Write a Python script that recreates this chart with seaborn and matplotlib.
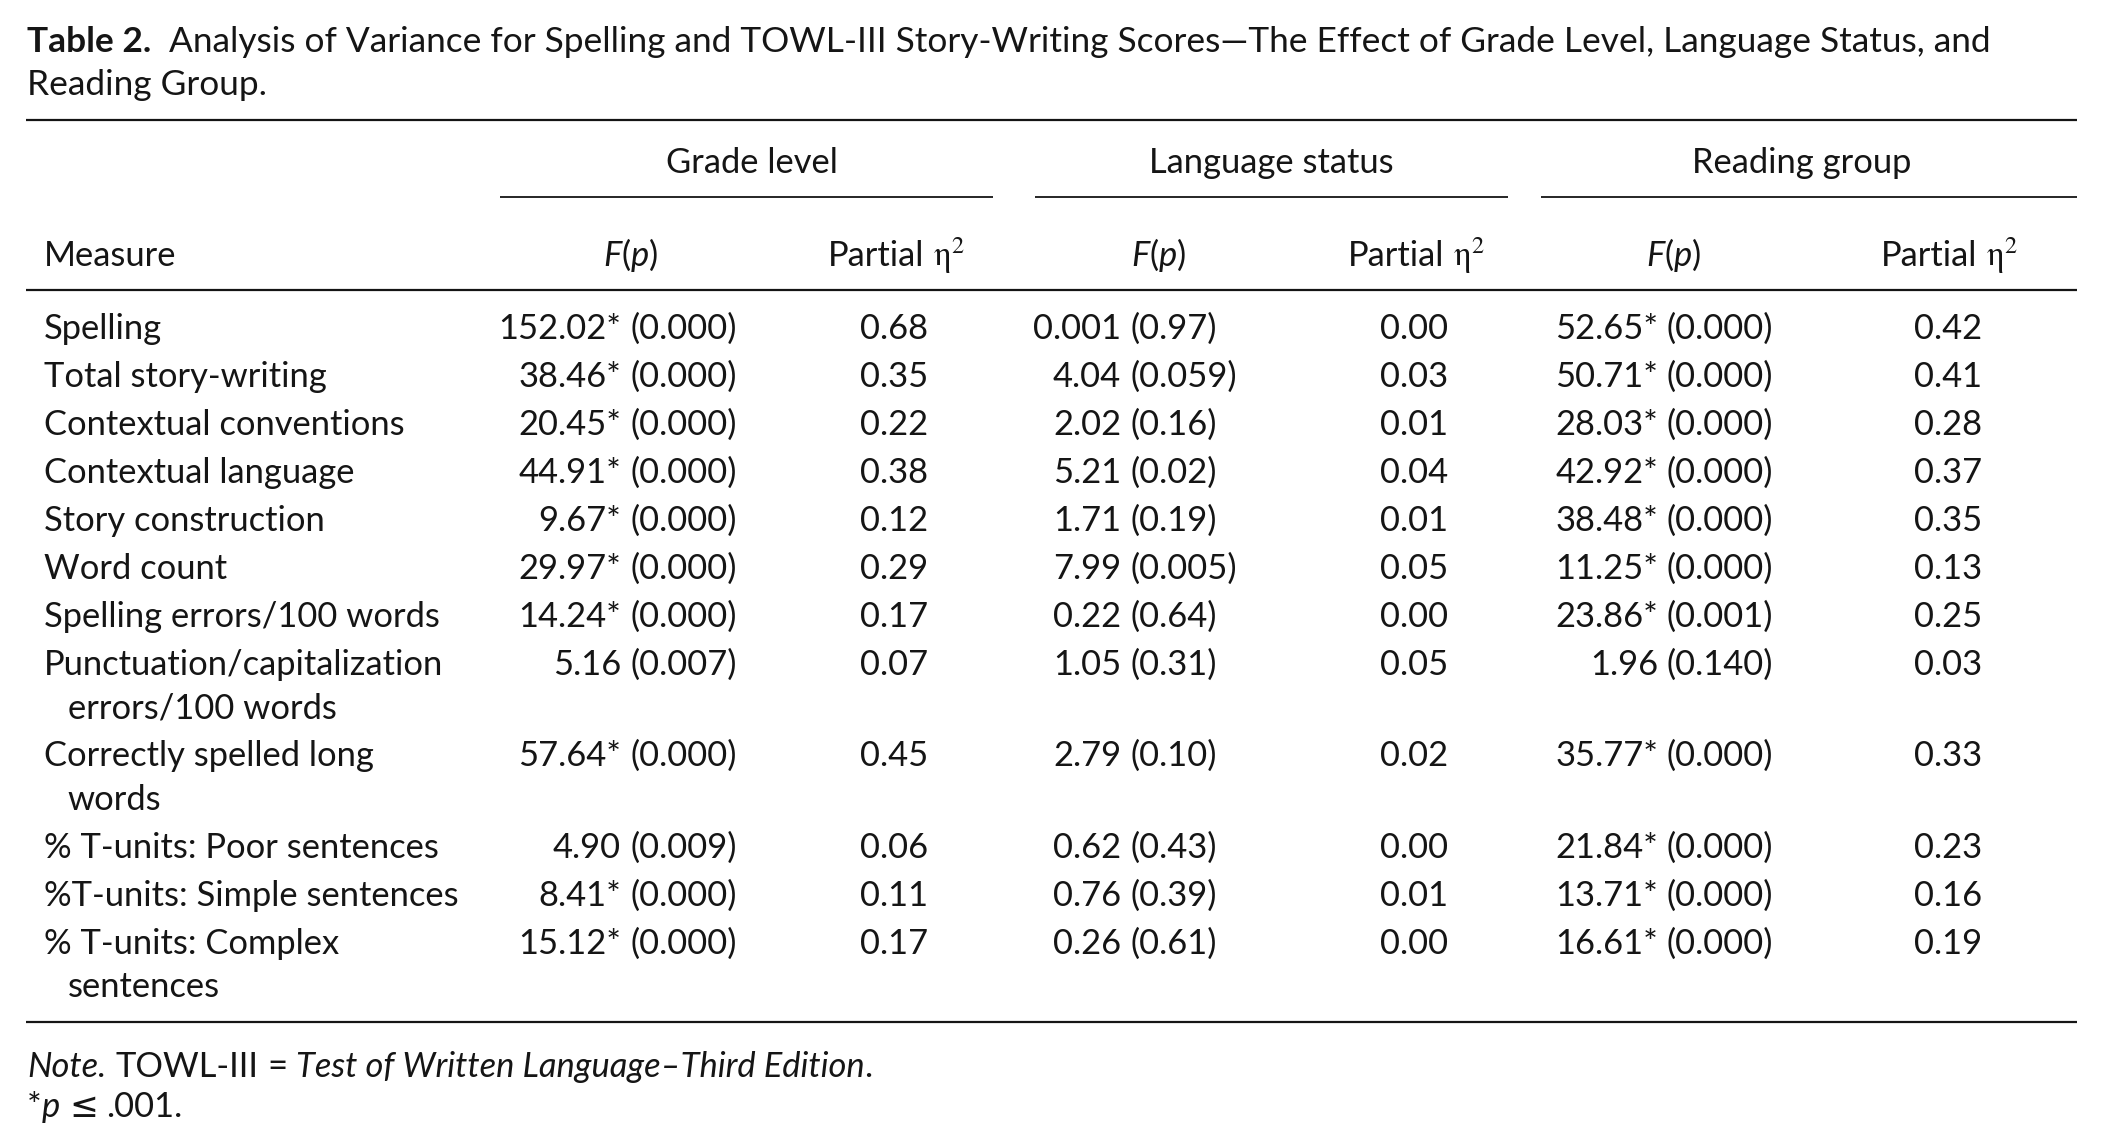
import matplotlib
matplotlib.use("Agg")
import matplotlib.pyplot as plt
import numpy as np
import pandas as pd
import seaborn as sns

# ---------------- data ----------------
title_bold = "Table 2."
title_line1 = "Analysis of Variance for Spelling and TOWL-III Story-Writing Scores\u2014The Effect of Grade Level, Language Status, and"
title_line2 = "Reading Group."

groups = ["Grade level", "Language status", "Reading group"]

measures = [
    "Spelling",
    "Total story-writing",
    "Contextual conventions",
    "Contextual language",
    "Story construction",
    "Word count",
    "Spelling errors/100 words",
    "Punctuation/capitalization\nerrors/100 words",
    "Correctly spelled long\nwords",
    "% T-units: Poor sentences",
    "%T-units: Simple sentences",
    "% T-units: Complex\nsentences",
]
grade_F = ["152.02* (0.000)", "38.46* (0.000)", "20.45* (0.000)", "44.91* (0.000)",
           "9.67* (0.000)", "29.97* (0.000)", "14.24* (0.000)", "5.16 (0.007)",
           "57.64* (0.000)", "4.90 (0.009)", "8.41* (0.000)", "15.12* (0.000)"]
grade_eta = [0.68, 0.35, 0.22, 0.38, 0.12, 0.29, 0.17, 0.07, 0.45, 0.06, 0.11, 0.17]
lang_F = ["0.001 (0.97)", "4.04 (0.059)", "2.02 (0.16)", "5.21 (0.02)",
          "1.71 (0.19)", "7.99 (0.005)", "0.22 (0.64)", "1.05 (0.31)",
          "2.79 (0.10)", "0.62 (0.43)", "0.76 (0.39)", "0.26 (0.61)"]
lang_eta = [0.00, 0.03, 0.01, 0.04, 0.01, 0.05, 0.00, 0.05, 0.02, 0.00, 0.01, 0.00]
read_F = ["52.65* (0.000)", "50.71* (0.000)", "28.03* (0.000)", "42.92* (0.000)",
          "38.48* (0.000)", "11.25* (0.000)", "23.86* (0.001)", "1.96 (0.140)",
          "35.77* (0.000)", "21.84* (0.000)", "13.71* (0.000)", "16.61* (0.000)"]
read_eta = [0.42, 0.41, 0.28, 0.37, 0.35, 0.13, 0.25, 0.03, 0.33, 0.23, 0.16, 0.19]

table = pd.DataFrame({
    "Measure": measures,
    "grade_F": grade_F, "grade_eta": grade_eta,
    "lang_F": lang_F, "lang_eta": lang_eta,
    "read_F": read_F, "read_eta": read_eta,
})

# ---------------- style ----------------
sns.set_theme(style="white")
plt.rcParams["font.family"] = ["Lato", "DejaVu Sans"]
plt.rcParams["mathtext.fontset"] = "stix"
INK = "#151515"

W, H = 2101, 1148
fig = plt.figure(figsize=(W / 100, H / 100), dpi=100)
fig.patch.set_facecolor("white")
ax = fig.add_axes([0, 0, 1, 1])
ax.set_xlim(0, W)
ax.set_ylim(H, 0)
ax.axis("off")
R = fig.canvas.get_renderer()


def tw(t):
    return t.get_window_extent(R).width


def measure(s, **kw):
    t = ax.text(0, 0, s, **kw)
    w = tw(t)
    t.remove()
    return w


# fit body font size to the reference width of a sample string
FS = 20 * 362 / measure("Contextual conventions", fontsize=20)
SPACE = measure("a a", fontsize=FS) - measure("aa", fontsize=FS)


def runs(x, y, parts, ha="left", size=None):
    size = size or FS
    sp = measure("a a", fontsize=size) - measure("aa", fontsize=size)
    objs, widths = [], []
    for txt, st in parts:
        if txt == " ":
            objs.append(None)
            widths.append(sp)
            continue
        t = ax.text(0, y, txt, fontsize=size, va="baseline", ha="left", color=INK, **st)
        objs.append(t)
        widths.append(tw(t))
    total = sum(widths)
    x0 = x if ha == "left" else (x - total / 2 if ha == "center" else x - total)
    for t, w in zip(objs, widths):
        if t is not None:
            t.set_x(x0)
        x0 += w
    return total


N = {}
I = {"fontstyle": "italic"}
B = {"fontweight": "bold"}
SYM = {"family": ["DejaVu Sans"]}

# ---------------- title ----------------
TX = 27
t1_parts = [(title_bold, B), (" ", N), (" ", N), (title_line1, N)]
w_title = sum(measure(p, fontsize=FS, **s) if p != " " else SPACE for p, s in t1_parts)
TFS = FS * 1959 / w_title
runs(TX, 52, t1_parts, size=TFS)
ax.text(TX, 95, title_line2, fontsize=TFS, va="baseline", color=INK)

# ---------------- rules ----------------
L, Rr = 26, 2077
ax.hlines([120, 290, 1022], L, Rr, color=INK, lw=1.6)
group_spans = [(500, 993), (1035, 1508), (1541, 2077)]
for x0, x1 in group_spans:
    ax.hlines(197, x0, x1, color=INK, lw=1.3)

# ---------------- headers ----------------
group_centers = [752, 1271, 1802]
for g, cx in zip(groups, group_centers):
    ax.text(cx, 173, g, fontsize=FS, ha="center", va="baseline", color=INK)

MX = 43.6
ax.text(MX, 266, "Measure", fontsize=FS, va="baseline", color=INK)
F_centers = [631, 1159, 1674]
E_centers = [896, 1416, 1949]
for cx in F_centers:
    runs(cx, 266, [("F", I), ("(", N), ("p", I), (")", N)], ha="center")
for cx in E_centers:
    runs(cx, 266, [("Partial", N), (" ", N), (r"$\mathrm{\eta}^{2}$", N)], ha="center")

# ---------------- body ----------------
paren_x = [630, 1130, 1667]
eta_x = [894, 1414, 1948]
ys = []
y = 339
for m in table["Measure"]:
    ys.append(y)
    y += 48.0 + 43.3 * (m.count("\n"))

for i, row in table.iterrows():
    yb = ys[i]
    lines = row["Measure"].split("\n")
    ax.text(MX, yb, lines[0], fontsize=FS, va="baseline", color=INK)
    for k, ln in enumerate(lines[1:], start=1):
        ax.text(MX + 24, yb + 43.3 * k, ln, fontsize=FS, va="baseline", color=INK)
    for col, px in zip(["grade_F", "lang_F", "read_F"], paren_x):
        num, par = row[col].split(" (")
        ax.text(px - SPACE, yb, num, fontsize=FS, ha="right", va="baseline", color=INK)
        ax.text(px, yb, "(" + par, fontsize=FS, ha="left", va="baseline", color=INK)
    for col, cx in zip(["grade_eta", "lang_eta", "read_eta"], eta_x):
        ax.text(cx, yb, f"{row[col]:.2f}", fontsize=FS, ha="center", va="baseline", color=INK)

# ---------------- notes ----------------
runs(TX, 1077, [("Note.", I), (" ", N), ("TOWL-III", N), (" ", N), ("=", N), (" ", N),
                ("Test of Written Language\u2013Third Edition", I), (".", N)])
runs(TX, 1117, [("*", N), ("p", I), (" ", N), ("\u2264", SYM), (" ", N), (".001.", N)])

fig.savefig("out.png", dpi=100, facecolor="white")
